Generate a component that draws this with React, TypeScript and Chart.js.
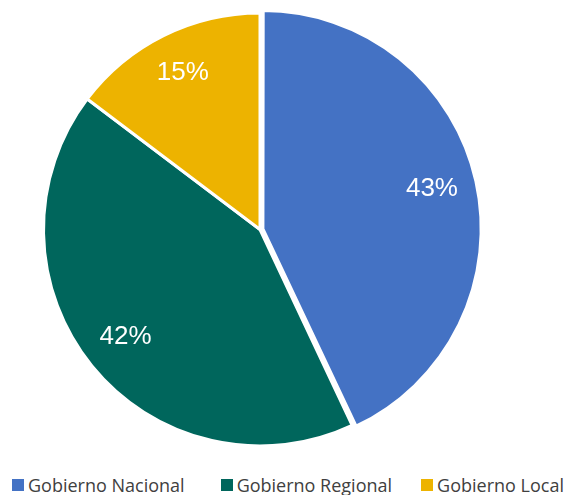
import React, { useEffect, useRef } from 'react';
import { Chart, registerables } from 'chart.js';

Chart.register(...registerables);

const categories = ['Gobierno Nacional', 'Gobierno Regional', 'Gobierno Local'];
const shares = [43.0, 42.3, 14.7];
const colors = ['#4472C4', '#00665C', '#EDB300'];
const explode = [12, 0, 0];
const legendGaps = [36, 29, 0];

const pctLabels = {
  id: 'pctLabels',
  afterDatasetsDraw(chart: any) {
    const ctx = chart.ctx;
    const meta = chart.getDatasetMeta(0);
    const total = shares.reduce((a, b) => a + b, 0);
    ctx.save();
    ctx.font = '26px "Liberation Sans", Arial, sans-serif';
    ctx.fillStyle = '#ffffff';
    ctx.textAlign = 'center';
    ctx.textBaseline = 'middle';
    meta.data.forEach((arc: any, i: number) => {
      const { x, y, startAngle, endAngle, outerRadius } = arc.getProps(
        ['x', 'y', 'startAngle', 'endAngle', 'outerRadius'],
        true
      );
      const mid = (startAngle + endAngle) / 2;
      const shift = (explode[i] || 0) / 4;
      const r = outerRadius * 0.8 + shift;
      ctx.fillText(
        Math.round((shares[i] / total) * 100) + '%',
        x + Math.cos(mid) * r,
        y + Math.sin(mid) * r - 2
      );
    });
    ctx.restore();
  },
};

export default function App() {
  const canvasRef = useRef<HTMLCanvasElement | null>(null);

  useEffect(() => {
    if (!canvasRef.current) return;
    const chart = new Chart(canvasRef.current, {
      type: 'pie',
      data: {
        labels: categories,
        datasets: [
          {
            data: shares,
            backgroundColor: colors,
            borderColor: '#ffffff',
            borderWidth: 3,
            offset: explode,
            radius: 216.5,
          } as any,
        ],
      },
      options: {
        responsive: false,
        animation: false,
        events: [],
        layout: { padding: { left: 0, right: 46, top: 0, bottom: 1 } },
        plugins: {
          legend: { display: false },
          tooltip: { enabled: false },
        },
      },
      plugins: [pctLabels],
    });
    return () => chart.destroy();
  }, []);

  return (
    <div
      style={{
        position: 'fixed',
        left: 0,
        top: 0,
        width: 566,
        height: 495,
        background: '#ffffff',
        overflow: 'hidden',
      }}
    >
      <canvas ref={canvasRef} width={566} height={460} style={{ display: 'block' }} />
      <div
        style={{
          position: 'absolute',
          left: 12,
          top: 472,
          height: 25,
          display: 'flex',
          alignItems: 'center',
          fontFamily: '"Open Sans", sans-serif',
          fontSize: 18,
          color: '#404040',
          whiteSpace: 'nowrap',
        }}
      >
        {categories.map((c, i) => (
          <div key={c} style={{ display: 'flex', alignItems: 'center', marginRight: legendGaps[i] }}>
            <span style={{ display: 'inline-block', width: 12, height: 12, background: colors[i], marginRight: 4 }} />
            <span>{c}</span>
          </div>
        ))}
      </div>
    </div>
  );
}
